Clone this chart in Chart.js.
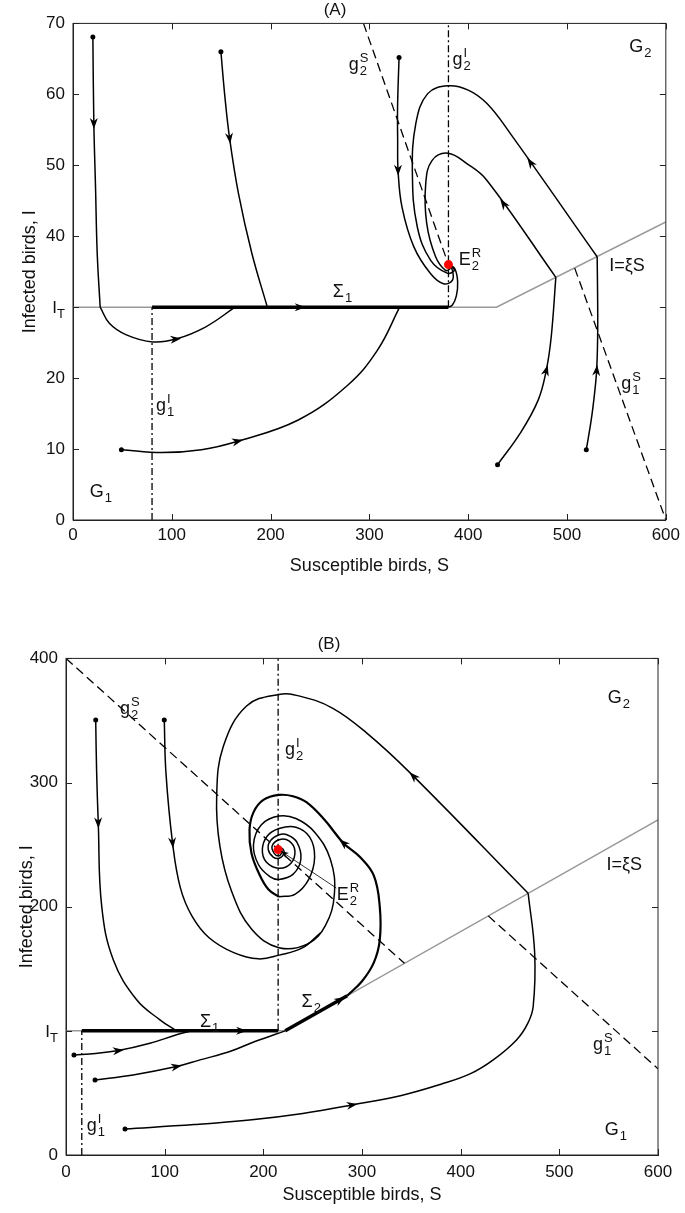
<!DOCTYPE html>
<html>
<head>
<meta charset="utf-8">
<script src="https://cdn.jsdelivr.net/npm/chart.js@4.4.0/dist/chart.umd.min.js"></script>
<style>
  body { margin: 0; background: #fff; }
  .box { position: absolute; left: 0; width: 685px; }
  #boxA { top: 0; height: 590px; }
  #boxB { top: 610px; height: 603px; }
</style>
</head>
<body>
<div class="box" id="boxA"><canvas id="chartA"></canvas></div>
<div class="box" id="boxB"><canvas id="chartB"></canvas></div>
<script>
// S = susceptible birds, I = infected birds
const sTicks = [0, 100, 200, 300, 400, 500, 600];

// ---- panel (A) ----
const aTicksI = [0, 10, 20, 30, 40, 50, 60, 70];
const aIT = 30;
const aThresh = [[0, 30], [428.6, 30], [600, 42]];
const aG2S = [[294, 70], [380, 36]];
const aG2I = [[380, 30], [380, 70]];
const aG1I = [[80, 0], [80, 30]];
const aG1S = [[507.8, 35.5], [600, 0]];
const aSlide = [[80, 30], [380, 30]];
const aTraj1 = [[20.1, 68.1], [21.1, 55.9], [22.8, 46.9], [24.5, 37.6], [27.5, 30]];
const aTraj1b = [[27.5, 30], [37, 27.7], [54, 26.1], [80.7, 25.1], [104, 25.5], [134, 27.2], [164, 30]];
const aTraj2 = [[149.7, 66], [153.5, 60], [158.5, 53.8], [167.5, 46], [181, 37.6], [196.7, 30]];
const aTraj3 = [[49, 9.9], [90, 9.5], [130, 9.9], [166.6, 11.1], [228, 14.1], [278, 19], [308, 23.9], [330.6, 30]];
const aTraj4 = [[380, 30], [384, 30.3], [388, 31.6], [389.3, 33.6], [386.5, 35.4], [381, 36]];
const aTraj5 = [[330, 65.2], [328.5, 58.2], [328.6, 53.5], [329, 49.3], [333, 44.1], [345, 38.5], [362, 34.7], [375, 33.3], [384, 33.8], [384, 35.2], [381, 36]];
const aTraj6a = [[429.7, 7.8], [452.5, 12.2], [470.8, 16.9], [479, 21.1], [484, 25.8], [488.7, 34.2]];
const aTraj6b = [[488.7, 34.2], [418.8, 47.9], [399, 50.2], [379.6, 51.7], [363.5, 50.7], [357, 47.4], [358, 41.8], [367, 37.1], [377, 35.2], [382, 35.5], [381, 36]];
const aTraj7a = [[519.5, 9.9], [524.5, 14.1], [528, 18], [530, 21.1], [531, 25.8], [531, 31], [530.5, 37.1]];
const aTraj7b = [[530.5, 37.1], [442.5, 54.5], [419, 58.7], [400, 60.6], [379.6, 61.2], [359, 60.1], [347, 55.9], [343.5, 48.8], [348.5, 41.3], [362, 36.6], [378.6, 34.8], [386, 35.2], [381, 36]];
const aStarts = [[20.1, 68.1], [149.7, 66], [49, 9.9], [330, 65.2], [429.7, 7.8], [519.5, 9.9]];
const aEq = [[380, 36]];
const aArrows = [
  [aTraj1, 21.1, 55.9], [aTraj1b, 104, 25.5], [aTraj2, 158.5, 53.8], [aTraj3, 166.6, 11.1],
  [aSlide, 230, 30], [aTraj5, 329, 49.3], [aTraj6a, 479, 21.1], [aTraj6b, 435.6, 44.6],
  [aTraj7a, 530, 21.1], [aTraj7b, 463, 50.4]
];
const aLabels = [
  ['g', '2', 'S', 279, 63.5], ['g', '2', 'I', 384, 64.1], ['G', '2', '', 563, 66],
  ['E', '2', 'R', 390.4, 35.9], ['I=ξS', '', '', 542.7, 35.1], ['Σ', '1', '', 263, 31.4],
  ['g', '1', 'S', 555, 18.5], ['g', '1', 'I', 84, 15.4], ['G', '1', '', 17, 3.2]
];

// ---- panel (B) ----
const bTicksI = [0, 100, 200, 300, 400];
const bIT = 100;
const bThresh = [[0, 100], [222.2, 100], [600, 270]];
const bG2S = [[0, 400], [343, 154.4]];
const bG2I = [[215, 100], [215, 400]];
const bG1I = [[16, 0], [16, 100]];
const bG1S = [[428, 192.6], [600, 69.4]];
const bSlide1 = [[16, 100], [215, 100]];
const bSlide2 = [[222.2, 100], [285, 128.3]];
const bTraj1 = [[30.1, 350.3], [31, 310], [32.7, 267.5], [36.2, 200.2], [47.9, 157.3], [71.6, 125], [95.2, 108.9], [112, 100]];
const bTraj2 = [[99.6, 350.3], [101.3, 307.8], [108, 251.4], [116, 215], [128, 192], [145, 175], [170, 163], [195, 158], [216, 161], [240, 167], [258, 179]];
const bTraj3 = [[8.1, 80.6], [30, 81.8], [53, 84.1], [85, 90], [112, 96.8], [127, 100]];
const bTraj4 = [[29.4, 60.5], [68, 64.5], [112, 71.2], [135.8, 76.6], [166, 83.3], [191.5, 91.4], [222.2, 100]];
const bTraj5a = [[59.8, 21], [130, 24.5], [186, 28.2], [240, 33.5], [290, 40.3], [340, 48], [380, 57], [410, 65.5], [433, 76.6], [456.6, 92.7], [468, 106], [473.5, 119.6], [475, 162.7], [468.4, 210.8]];
const bTraj5b = [[468.4, 210.8], [348.5, 308], [304.6, 340], [270, 360], [237, 369.6], [215.8, 371], [183, 361.6], [159.4, 329], [152.7, 289], [156, 248.6], [168, 212], [188, 182], [215.8, 167], [245, 170], [263, 185], [272, 210], [268, 238], [252, 260], [233, 271], [215.8, 273], [198, 266], [190, 250], [195, 234], [207, 224], [216, 222], [230, 226], [238, 238], [234, 252], [224, 258], [216, 258], [207, 253], [205, 246], [210, 240], [216, 239], [221, 243], [219, 247], [215, 246]];
const bTraj6a = [[285, 128.3], [300, 140], [312, 155], [318, 173], [318, 200], [312, 225], [298, 240], [281, 251.4], [262, 270], [244, 284], [230, 289], [215.8, 290], [200, 286], [190, 276], [186, 262], [188, 243], [196, 226], [205, 214], [215.8, 208]];
const bTraj6b = [[215.8, 208], [232, 210], [246, 222], [252, 240], [247, 256], [233, 264], [216, 263], [204, 257], [199, 246], [203, 236], [216, 231], [228, 235], [232, 245], [226, 253], [216, 254], [209, 249], [211, 243], [216, 241], [219, 245], [215, 246]];
const bStarts = [[30.1, 350.3], [99.6, 350.3], [8.1, 80.6], [29.4, 60.5], [59.8, 21]];
const bEq = [[215, 246]];
const bLeader = [[274, 215], [221, 243]];
const bArrows = [
  [bTraj1, 32.7, 267.5], [bTraj2, 108, 251.4], [bTraj3, 53, 84.1], [bTraj4, 112, 71.2],
  [bSlide1, 178, 100], [bSlide2, 278, 125.1], [bTraj5a, 290, 40.3], [bTraj5b, 352, 305.2],
  [bTraj6a, 281, 251.4]
];
const bLabels = [
  ['g', '2', 'S', 54.7, 355.6], ['g', '2', 'I', 221.9, 321.8], ['G', '2', '', 549, 364.3],
  ['E', '2', 'R', 274.3, 205.6], ['I=ξS', '', '', 547.8, 229.8], ['g', '1', 'S', 534, 84.7],
  ['Σ', '1', '', 135.8, 103], ['Σ', '2', '', 238.8, 119.6], ['g', '1', 'I', 21, 19.4], ['G', '1', '', 546, 16]
];

const FONT = '"Liberation Sans", Arial, Helvetica, sans-serif';
Chart.defaults.font.family = FONT;
Chart.defaults.font.size = 17;
Chart.defaults.color = '#111';

const xy = pts => pts.map(([x, y]) => ({ x, y }));

function curve(pts, width) {
  return { data: xy(pts), showLine: true, pointRadius: 0, borderColor: '#000', borderWidth: width || 1.5, tension: 0.4, order: 2 };
}
function straight(pts, color, dash, width, order) {
  return { data: xy(pts), showLine: true, pointRadius: 0, borderColor: color, borderWidth: width, borderDash: dash, tension: 0, order: order };
}
function dots(pts, color, r) {
  return { data: xy(pts), showLine: false, pointRadius: r, pointBackgroundColor: color, pointBorderColor: color, pointBorderWidth: 0, order: 0 };
}

const DASH = [9, 5];
const DASHDOT = [7, 3, 2, 3];

function arrowAngle(traj, X, Y, px, py) {
  let best = Infinity, ang = 0;
  for (let k = 0; k < traj.length - 1; k++) {
    const x1 = px(traj[k][0]), y1 = py(traj[k][1]);
    const dx = px(traj[k + 1][0]) - x1, dy = py(traj[k + 1][1]) - y1;
    const L = dx * dx + dy * dy;
    let t = L ? ((X - x1) * dx + (Y - y1) * dy) / L : 0;
    t = Math.max(0, Math.min(1, t));
    const d = (x1 + t * dx - X) ** 2 + (y1 + t * dy - Y) ** 2;
    if (d < best) { best = d; ang = Math.atan2(dy, dx); }
  }
  return ang;
}

function arrowHead(ctx, x, y, ang, len, half) {
  ctx.save();
  ctx.translate(x, y);
  ctx.rotate(ang);
  ctx.beginPath();
  ctx.moveTo(len / 2, 0);
  ctx.lineTo(-len / 2, -half);
  ctx.lineTo(-len * 0.2, 0);
  ctx.lineTo(-len / 2, half);
  ctx.closePath();
  ctx.fill();
  ctx.restore();
}

function mathText(ctx, x, y, base, sub, sup) {
  ctx.font = '18px ' + FONT;
  ctx.fillText(base, x, y);
  const w = ctx.measureText(base).width + 1;
  ctx.font = '13px ' + FONT;
  if (sup) ctx.fillText(sup, x + w, y - 8);
  if (sub) ctx.fillText(sub, x + w, y + 5);
}

const phasePlugin = {
  id: 'phase',
  afterDatasetsDraw(chart, args, opts) {
    const { ctx, scales: { x, y } } = chart;
    const px = v => x.getPixelForValue(v), py = v => y.getPixelForValue(v);
    ctx.save();
    ctx.fillStyle = '#000';
    opts.arrows.forEach(([traj, s, i]) => {
      const X = px(s), Y = py(i);
      arrowHead(ctx, X, Y, arrowAngle(traj, X, Y, px, py), 11, 4);
    });
    if (opts.leader) {
      const [[s1, i1], [s2, i2]] = opts.leader;
      ctx.strokeStyle = '#000';
      ctx.lineWidth = 0.8;
      ctx.beginPath();
      ctx.moveTo(px(s1), py(i1));
      ctx.lineTo(px(s2), py(i2));
      ctx.stroke();
      const ang = Math.atan2(py(i2) - py(i1), px(s2) - px(s1));
      arrowHead(ctx, px(s2), py(i2), ang, 8, 3);
    }
    ctx.fillStyle = '#111';
    ctx.textAlign = 'left';
    ctx.textBaseline = 'alphabetic';
    opts.labels.forEach(([base, sub, sup, s, i]) => mathText(ctx, px(s), py(i), base, sub, sup));
    ctx.restore();
  },
  afterDraw(chart, args, opts) {
    const { ctx, chartArea: a, scales: { x, y } } = chart;
    ctx.save();
    ctx.strokeStyle = '#222';
    ctx.lineWidth = 1;
    ctx.strokeRect(a.left, a.top, a.right - a.left, a.bottom - a.top);
    ctx.beginPath();
    x.ticks.forEach(t => {
      const X = Math.round(x.getPixelForValue(t.value)) + 0.5;
      ctx.moveTo(X, a.bottom); ctx.lineTo(X, a.bottom - 6);
      ctx.moveTo(X, a.top); ctx.lineTo(X, a.top + 6);
    });
    y.ticks.forEach(t => {
      const Y = Math.round(y.getPixelForValue(t.value)) + 0.5;
      ctx.moveTo(a.left, Y); ctx.lineTo(a.left + 6, Y);
      ctx.moveTo(a.right, Y); ctx.lineTo(a.right - 6, Y);
    });
    ctx.stroke();
    // I_T tick label
    const Y = y.getPixelForValue(opts.it);
    const X = a.left - 8;
    ctx.fillStyle = '#111';
    ctx.textAlign = 'right';
    ctx.textBaseline = 'alphabetic';
    ctx.font = '13px ' + FONT;
    ctx.fillText('T', X, Y + 11);
    const tw = ctx.measureText('T').width;
    ctx.font = '17px ' + FONT;
    ctx.fillText('I', X - tw, Y + 6);
    ctx.restore();
  }
};

function makeChart(id, o) {
  return new Chart(document.getElementById(id), {
    type: 'scatter',
    data: { datasets: o.datasets },
    plugins: [phasePlugin],
    options: {
      responsive: true,
      maintainAspectRatio: false,
      animation: false,
      layout: { padding: { top: 0, right: o.padRight, bottom: 0, left: 0 } },
      plugins: {
        legend: { display: false },
        tooltip: { enabled: false },
        title: { display: true, text: o.title, color: '#111', font: { size: 17, weight: 'normal' }, padding: o.titlePad },
        phase: { arrows: o.arrows, labels: o.labels, it: o.it, leader: o.leader }
      },
      scales: {
        x: {
          type: 'linear', min: 0, max: 600,
          afterBuildTicks: s => { s.ticks = sTicks.map(v => ({ value: v })); },
          grid: { display: false, drawTicks: false },
          border: { color: '#222' },
          ticks: { padding: o.xTickPad, color: '#111' },
          title: { display: true, text: 'Susceptible birds, S', color: '#111', font: { size: 18 }, padding: { top: 0, bottom: o.xTitlePad } },
          afterFit: s => { s.height = o.xBoxH; }
        },
        y: {
          type: 'linear', min: 0, max: o.yTicks[o.yTicks.length - 1],
          afterBuildTicks: s => { s.ticks = o.yTicks.map(v => ({ value: v })); },
          grid: { display: false, drawTicks: false },
          border: { color: '#222' },
          ticks: { padding: 8, color: '#111', callback: v => (v === o.it ? '' : v) },
          title: { display: true, text: 'Infected birds, I', color: '#111', font: { size: 18 }, padding: { top: o.yTitlePad, bottom: 0 } },
          afterFit: s => { s.width = o.yBoxW; }
        }
      }
    }
  });
}

makeChart('chartA', {
  title: '(A)', titlePad: { top: 0, bottom: 3 }, padRight: 15,
  xBoxH: 70, xTickPad: 5, xTitlePad: 13, yBoxW: 73, yTitlePad: 19,
  yTicks: aTicksI, it: aIT, arrows: aArrows, labels: aLabels, leader: null,
  datasets: [
    dots(aEq, '#ff0000', 4.5),
    dots(aStarts, '#000', 2.5),
    straight(aSlide, '#000', [], 3.5, 1),
    curve(aTraj1), curve(aTraj1b), curve(aTraj2), curve(aTraj3), curve(aTraj4), curve(aTraj5),
    curve(aTraj6a), curve(aTraj6b), curve(aTraj7a), curve(aTraj7b),
    straight(aG2S, '#000', DASH, 1.3, 3), straight(aG1S, '#000', DASH, 1.3, 3),
    straight(aG2I, '#000', DASHDOT, 1.3, 3), straight(aG1I, '#000', DASHDOT, 1.3, 3),
    straight(aThresh, '#999', [], 1.5, 4)
  ]
});

makeChart('chartB', {
  title: '(B)', titlePad: { top: 24, bottom: 4 }, padRight: 27,
  xBoxH: 58, xTickPad: 7, xTitlePad: 7, yBoxW: 66, yTitlePad: 16,
  yTicks: bTicksI, it: bIT, arrows: bArrows, labels: bLabels, leader: bLeader,
  datasets: [
    dots(bEq, '#ff0000', 4.5),
    dots(bStarts, '#000', 2.5),
    straight(bSlide1, '#000', [], 3.5, 1), straight(bSlide2, '#000', [], 3.5, 1),
    curve(bTraj1), curve(bTraj2), curve(bTraj3), curve(bTraj4), curve(bTraj5a), curve(bTraj5b),
    curve(bTraj6a, 2.2), curve(bTraj6b),
    straight(bG2S, '#000', DASH, 1.3, 3), straight(bG1S, '#000', DASH, 1.3, 3),
    straight(bG2I, '#000', DASHDOT, 1.3, 3), straight(bG1I, '#000', DASHDOT, 1.3, 3),
    straight(bThresh, '#999', [], 1.5, 4)
  ]
});
</script>
</body>
</html>
